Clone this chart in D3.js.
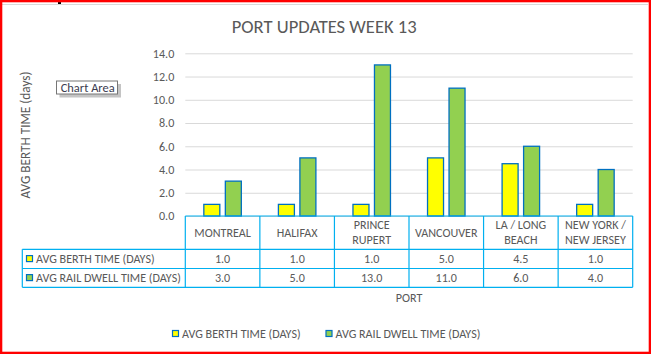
<!DOCTYPE html>
<html>
<head>
<meta charset="utf-8">
<script src="https://cdn.jsdelivr.net/npm/d3@7"></script>
<style>
  body { margin: 0; background: #fff; }
  svg { display: block; }
</style>
</head>
<body>
<svg id="chart"></svg>
<script>
const width = 651;
const height = 354;

// --- Data ---
const ports = ["MONTREAL", "HALIFAX", "PRINCE RUPERT", "VANCOUVER", "LA / LONG BEACH", "NEW YORK / NEW JERSEY"];
const portLines = [["MONTREAL"], ["HALIFAX"], ["PRINCE", "RUPERT"], ["VANCOUVER"], ["LA / LONG", "BEACH"], ["NEW YORK /", "NEW JERSEY"]];
const seriesNames = ["AVG BERTH TIME (DAYS)", "AVG RAIL DWELL TIME (DAYS)"];
const berthTime = [1.0, 1.0, 1.0, 5.0, 4.5, 1.0];
const railDwell = [3.0, 5.0, 13.0, 11.0, 6.0, 4.0];
const yTicks = [0, 2, 4, 6, 8, 10, 12, 14];
const seriesColors = ["#FFFF00", "#92D050"];

const series = [berthTime, railDwell];
const font = "Calibri, Carlito, Lato, sans-serif";
const textColor = "#595959";
const tableColor = "#00B0F0";

const svg = d3.select("#chart")
  .attr("width", width)
  .attr("height", height)
  .attr("viewBox", [0, 0, width, height]);

// size a font so a string takes a given width (no Calibri here)
function fit(str, target) {
  const t = svg.append("text").attr("font-family", font).attr("font-size", 100).text(str);
  const w = t.node().getComputedTextLength();
  t.remove();
  return 100 * target / w;
}
const fs = fit("AVG RAIL DWELL TIME (DAYS)", 145);
const titleFs = fit("PORT UPDATES WEEK 13", 185);

// --- Scales ---
const x = d3.scaleBand().domain(ports).range([185.3, 632.7]).padding(0);
const x1 = d3.scaleBand().domain(d3.range(series.length)).range([0, x.bandwidth()])
  .paddingInner(0.256).paddingOuter(0.862);
const y = d3.scaleLinear().domain([0, 14]).range([216, 53.3]);

// --- Frame ---
svg.append("line")
  .attr("x1", 2).attr("x2", 648).attr("y1", 4.5).attr("y2", 4.5)
  .attr("stroke", "#d9d9d9").attr("stroke-width", 1);
svg.append("rect")
  .attr("x", 58).attr("y", 2).attr("width", 3).attr("height", 2).attr("fill", "#000");

// --- Title ---
svg.append("text")
  .attr("x", 324.2).attr("y", 26.3).attr("dy", "0.35em")
  .attr("text-anchor", "middle")
  .attr("font-family", font).attr("font-size", titleFs)
  .attr("fill", textColor)
  .text("PORT UPDATES WEEK 13");

// --- Y axis + gridlines ---
const gy = svg.append("g")
  .attr("transform", `translate(${x.range()[0]},0)`)
  .call(d3.axisLeft(y).tickValues(yTicks).tickFormat(d3.format(".1f"))
    .tickSize(-(x.range()[1] - x.range()[0])).tickPadding(11));
gy.select(".domain").remove();
gy.selectAll(".tick line").attr("stroke", "#d9d9d9");
gy.selectAll(".tick text")
  .attr("font-family", font).attr("font-size", fs).attr("fill", textColor);

svg.append("text")
  .attr("transform", "translate(25.5,135) rotate(-90)")
  .attr("dy", "0.35em")
  .attr("text-anchor", "middle")
  .attr("font-family", font).attr("font-size", fit("AVG BERTH TIME (days)", 127))
  .attr("fill", textColor)
  .text("AVG BERTH TIME (days)");

// --- Bars ---
const gBars = svg.append("g");
ports.forEach((p, i) => {
  series.forEach((vals, s) => {
    gBars.append("rect")
      .attr("x", x(p) + x1(s))
      .attr("y", y(vals[i]))
      .attr("width", x1.bandwidth())
      .attr("height", y(0) - y(vals[i]))
      .attr("fill", seriesColors[s])
      .attr("stroke", "#0070C0")
      .attr("stroke-width", 1.3);
  });
});

// --- Data table ---
const rowTop = y(0);
const rowLines = [249.3, 268.5, 287.3];
const tableLeft = 22.3;
const gTable = svg.append("g")
  .attr("stroke", tableColor).attr("stroke-width", 1.2).attr("fill", "none");

gTable.append("line")
  .attr("x1", x.range()[0]).attr("x2", x.range()[1]).attr("y1", rowTop).attr("y2", rowTop);
rowLines.forEach(ry => {
  gTable.append("line")
    .attr("x1", tableLeft).attr("x2", x.range()[1]).attr("y1", ry).attr("y2", ry);
});
gTable.append("line")
  .attr("x1", tableLeft).attr("x2", tableLeft).attr("y1", rowLines[0]).attr("y2", rowLines[2]);
ports.map(p => x(p)).concat([x.range()[1]]).forEach(bx => {
  gTable.append("line")
    .attr("x1", bx).attr("x2", bx).attr("y1", rowTop).attr("y2", rowLines[2]);
});

const gText = svg.append("g")
  .attr("font-family", font).attr("font-size", fs).attr("fill", textColor)
  .attr("text-anchor", "middle");

// category headers
const headerMid = (rowTop + rowLines[0]) / 2;
ports.forEach((p, i) => {
  const lines = portLines[i];
  lines.forEach((ln, k) => {
    gText.append("text")
      .attr("x", x(p) + x.bandwidth() / 2)
      .attr("y", headerMid + (k - (lines.length - 1) / 2) * 15)
      .attr("dy", "0.35em")
      .text(ln);
  });
});

// values
const fmt = d3.format(".1f");
series.forEach((vals, s) => {
  const cy = (rowLines[s] + rowLines[s + 1]) / 2;
  ports.forEach((p, i) => {
    gText.append("text")
      .attr("x", x(p) + x.bandwidth() / 2)
      .attr("y", cy)
      .attr("dy", "0.35em")
      .text(fmt(vals[i]));
  });
  // row header with key
  svg.append("rect")
    .attr("x", 26.5).attr("y", cy - 3.3).attr("width", 6).attr("height", 6)
    .attr("fill", seriesColors[s]).attr("stroke", "#0070C0").attr("stroke-width", 1.2);
  gText.append("text")
    .attr("x", 36).attr("y", cy).attr("dy", "0.35em")
    .attr("text-anchor", "start")
    .text(seriesNames[s]);
});

// x axis title
gText.append("text")
  .attr("x", (x.range()[0] + x.range()[1]) / 2)
  .attr("y", 297.5).attr("dy", "0.35em")
  .text("PORT");

// --- Legend ---
const legendX = [172.5, 326];
seriesNames.forEach((name, s) => {
  svg.append("rect")
    .attr("x", legendX[s]).attr("y", 330.5).attr("width", 6).attr("height", 6)
    .attr("fill", seriesColors[s]).attr("stroke", "#0070C0").attr("stroke-width", 1.2);
  gText.append("text")
    .attr("x", legendX[s] + 9.5).attr("y", 333.5).attr("dy", "0.35em")
    .attr("text-anchor", "start")
    .text(name);
});

// --- "Chart Area" tooltip ---
const tip = svg.append("g");
tip.append("rect")
  .attr("x", 59.5).attr("y", 84).attr("width", 61.5).attr("height", 13.5)
  .attr("fill", "#b0b0b0").attr("opacity", 0.75);
tip.append("rect")
  .attr("x", 56.5).attr("y", 81).attr("width", 61).attr("height", 13)
  .attr("fill", "#fff").attr("stroke", "#767676").attr("stroke-width", 1);
tip.append("text")
  .attr("x", 60.7).attr("y", 87.3).attr("dy", "0.35em")
  .attr("font-family", font).attr("font-size", fit("Chart Area", 54))
  .attr("fill", "#3b3b4f")
  .text("Chart Area");

// --- Outer red border ---
svg.append("rect")
  .attr("x", 1.1).attr("y", 1.1).attr("width", width - 2.2).attr("height", height - 2.2)
  .attr("fill", "none").attr("stroke", "#FF0000").attr("stroke-width", 2.4);
</script>
</body>
</html>
